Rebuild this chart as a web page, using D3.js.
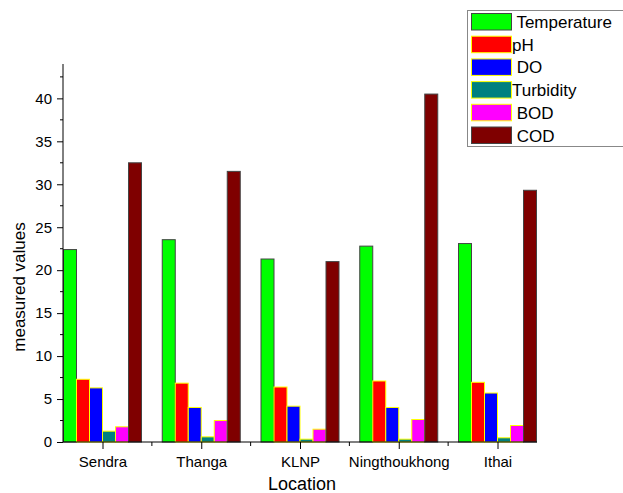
<!DOCTYPE html>
<html><head><meta charset="utf-8">
<script src="https://cdn.jsdelivr.net/npm/d3@7"></script>
<style>
html,body{margin:0;padding:0;background:#fff;}
svg{display:block;font-family:"Liberation Sans",Arial,sans-serif;}
</style></head>
<body>
<svg id="chart" width="623" height="493"></svg>
<script>
const locations = ["Sendra", "Thanga", "KLNP", "Ningthoukhong", "Ithai"];
const seriesNames = ["Temperature", "pH", "DO", "Turbidity", "BOD", "COD"];
const legendLabels = [" Temperature", "pH", " DO", "Turbidity", " BOD", " COD"];
const temperature = [22.4, 23.55, 21.3, 22.8, 23.1];
const pH = [7.3, 6.85, 6.4, 7.1, 6.95];
const DO = [6.3, 4.02, 4.17, 4.02, 5.7];
const turbidity = [1.26, 0.6, 0.33, 0.33, 0.49];
const BOD = [1.77, 2.5, 1.49, 2.62, 1.92];
const COD = [32.5, 31.5, 21.0, 40.5, 29.3];
const fills = ["#00ff00", "#ff0000", "#0000ff", "#008080", "#ff00ff", "#7f0000"];
const strokes = ["#444444", "#ffff00", "#ffff00", "#ffff00", "#ffff00", "#444444"];
const yTicks = [0, 5, 10, 15, 20, 25, 30, 35, 40];

const values = [temperature, pH, DO, turbidity, BOD, COD];
const svg = d3.select("#chart");
const mLeft = 63, mRight = 537, mBottom = 442, mTop = 64;

const x = d3.scalePoint().domain(locations).range([mLeft, mRight]).padding(0.4);
const inner = d3.scaleBand().domain(seriesNames).range([-39, 39]);
const y = d3.scaleLinear().domain([0, 44]).range([mBottom, mTop]);

// bars
seriesNames.forEach((s, si) => {
  svg.append("g").selectAll("rect").data(locations).join("rect")
    .attr("x", d => x(d) + inner(s))
    .attr("y", (d, i) => y(values[si][i]))
    .attr("width", inner.bandwidth())
    .attr("height", (d, i) => mBottom - y(values[si][i]))
    .attr("fill", fills[si])
    .attr("stroke", strokes[si])
    .attr("stroke-width", 1);
});

// y axis
const yAxis = svg.append("g").attr("transform", `translate(${mLeft},0)`)
  .call(d3.axisLeft(y).tickValues(yTicks).tickSize(6).tickPadding(5).tickFormat(d3.format("d")));
yAxis.select(".domain").attr("stroke", "#000").attr("d", `M0,${mBottom}V${mTop}`);
yAxis.selectAll("text").attr("font-size", 15).attr("fill", "#000").attr("font-family", "Liberation Sans, Arial, sans-serif");
const minorY = d3.range(2.5, 44, 5);
svg.append("g").selectAll("line").data(minorY).join("line")
  .attr("x1", mLeft - 3).attr("x2", mLeft)
  .attr("y1", d => y(d)).attr("y2", d => y(d)).attr("stroke", "#000");

// x axis
const xAxis = svg.append("g").attr("transform", `translate(0,${mBottom})`)
  .call(d3.axisBottom(x).tickSize(7).tickPadding(7));
xAxis.select(".domain").attr("stroke", "#000").attr("d", `M${mLeft},0H${mRight}`);
xAxis.selectAll("text").attr("font-size", 15).attr("fill", "#000").attr("font-family", "Liberation Sans, Arial, sans-serif");
const mids = locations.slice(1).map((d, i) => (x(locations[i]) + x(d)) / 2);
svg.append("g").selectAll("line").data(mids).join("line")
  .attr("x1", d => d).attr("x2", d => d)
  .attr("y1", mBottom).attr("y2", mBottom + 4).attr("stroke", "#000");

// axis titles
svg.append("text").attr("x", (mLeft + mRight) / 2 + 2).attr("y", 490)
  .attr("text-anchor", "middle").attr("font-size", 18).text("Location");
svg.append("text").attr("transform", "translate(25,287) rotate(-90)")
  .attr("text-anchor", "middle").attr("font-size", 17).text("measured values");

// legend
const lg = svg.append("g");
lg.append("rect").attr("x", 467.5).attr("y", 10.5).attr("width", 170).attr("height", 136)
  .attr("fill", "#fff").attr("stroke", "#888");
seriesNames.forEach((s, i) => {
  const yy = 13.5 + i * 22.7;
  lg.append("rect").attr("x", 471.5).attr("y", yy).attr("width", 40).attr("height", 16.5)
    .attr("fill", fills[i]).attr("stroke", strokes[i]);
  lg.append("text").attr("x", 512).attr("y", yy + 14.5).attr("font-size", 17)
    .style("white-space", "pre").text(legendLabels[i]);
});
</script>
</body></html>
